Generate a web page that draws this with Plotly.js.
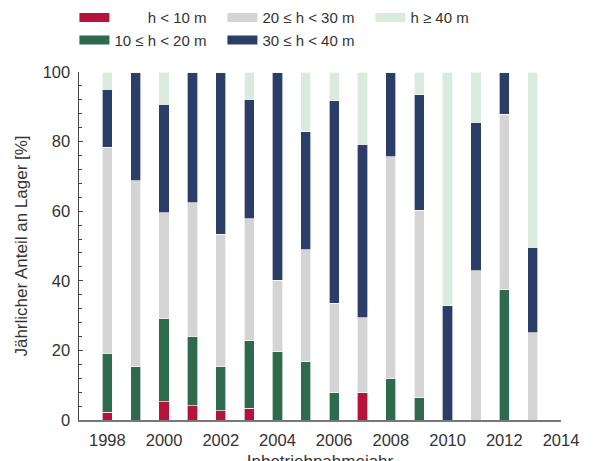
<!DOCTYPE html>
<html>
<head>
<meta charset="utf-8">
<script src="https://cdn.plot.ly/plotly-3.0.1.min.js"></script>
<style>html,body{margin:0;padding:0;background:#fff;overflow:hidden;}#chart{width:595px;height:471px;}</style>
</head>
<body>
<div id="chart"></div>
<script>
const years = [1998,1999,2000,2001,2002,2003,2004,2005,2006,2007,2008,2009,2010,2011,2012,2013];
const hLt10   = [2.2, 0, 5.3, 4.1, 2.7, 3.4, 0, 0, 0, 7.9, 0, 0, 0, 0, 0, 0];
const h10to20 = [17.0, 15.3, 23.9, 20.0, 12.6, 19.4, 19.6, 16.8, 7.9, 0, 12.0, 6.4, 0, 0, 37.4, 0];
const h20to30 = [59.2, 53.5, 30.4, 38.4, 38.1, 35.1, 20.6, 32.1, 25.6, 21.5, 63.6, 53.9, 0, 42.9, 50.4, 25.1];
const h30to40 = [16.6, 31.2, 31.1, 37.5, 46.6, 34.3, 59.8, 33.9, 58.2, 49.8, 24.4, 33.1, 32.9, 42.6, 12.2, 24.5];
const hGe40   = [5.0, 0, 9.3, 0, 0, 7.8, 0, 17.2, 8.3, 20.8, 0, 6.6, 67.1, 14.5, 0, 50.4];

const seriesNames = ['h < 10 m', '10 \u2264 h < 20 m', '20 \u2264 h < 30 m', '30 \u2264 h < 40 m', 'h \u2265 40 m'];
const seriesData = [hLt10, h10to20, h20to30, h30to40, hGe40];
const colors = ['#b5123c', '#2d6b4c', '#d4d4d4', '#2b3e68', '#d8ebdd'];
const legendRanks = [1, 4, 2, 5, 3];
const legendLabels = ['\u00a0\u00a0\u00a0\u00a0\u00a0\u00a0\u00a0\u00a0h < 10 m', '10 \u2264 h < 20 m', '20 \u2264 h < 30 m', '30 \u2264 h < 40 m', 'h \u2265 40 m'];

const traces = [];
seriesData.forEach((vals, i) => {
  traces.push({
    type: 'bar', x: years, y: vals, name: seriesNames[i],
    marker: {color: colors[i], line: {color: 'rgba(255,255,255,0.8)', width: 0.8}},
    width: 0.36, showlegend: false, legendgroup: 'g' + i, hoverinfo: 'x+y+name'
  });
});
seriesData.forEach((vals, i) => {
  traces.push({
    type: 'scatter', mode: 'lines', x: [null], y: [null], name: legendLabels[i],
    line: {color: colors[i], width: 9}, legendgroup: 'g' + i, legendrank: legendRanks[i],
    showlegend: true, hoverinfo: 'skip'
  });
});

const layout = {
  width: 595, height: 471,
  margin: {l: 79, r: 34, t: 72, b: 51, autoexpand: false},
  barmode: 'stack',
  paper_bgcolor: '#fff', plot_bgcolor: '#fff',
  font: {family: 'Liberation Sans, Arial, sans-serif', color: '#333', size: 15},
  showlegend: true,
  legend: {
    orientation: 'h', x: -0.0095, xanchor: 'left', y: 1.203, yanchor: 'top',
    font: {size: 15, color: '#333'}, entrywidth: 103, entrywidthmode: 'pixels',
    traceorder: 'normal', bgcolor: 'rgba(0,0,0,0)', itemclick: false, itemdoubleclick: false
  },
  xaxis: {
    range: [1997, 2014], tickmode: 'linear', tick0: 1998, dtick: 2,
    showgrid: false, zeroline: false, showline: true, linecolor: '#777', linewidth: 2,
    ticks: 'inside', ticklen: 5, tickwidth: 1.5, tickcolor: '#777',
    tickfont: {size: 16.5, color: '#333'}, ticklabelstandoff: 4,
    layer: 'below traces', automargin: false,
    title: {text: 'Inbetriebnahmejahr', font: {size: 17, color: '#333'}, standoff: 19}
  },
  yaxis: {
    range: [0, 100], tickmode: 'linear', tick0: 0, dtick: 20,
    showgrid: false, zeroline: false, showline: true, linecolor: '#444', linewidth: 1.5,
    ticks: 'inside', ticklen: 4, tickwidth: 1.2, tickcolor: '#444',
    minor: {dtick: 4, ticks: 'inside', ticklen: 3, tickcolor: '#444', tickwidth: 1},
    tickfont: {size: 16.5, color: '#333'}, ticklabelstandoff: 4,
    automargin: false,
    title: {text: 'J\u00e4hrlicher Anteil an Lager [%]', font: {size: 17, color: '#333'}, standoff: 10}
  }
};

Plotly.newPlot('chart', traces, layout, {displayModeBar: false, staticPlot: true});
</script>
</body>
</html>
